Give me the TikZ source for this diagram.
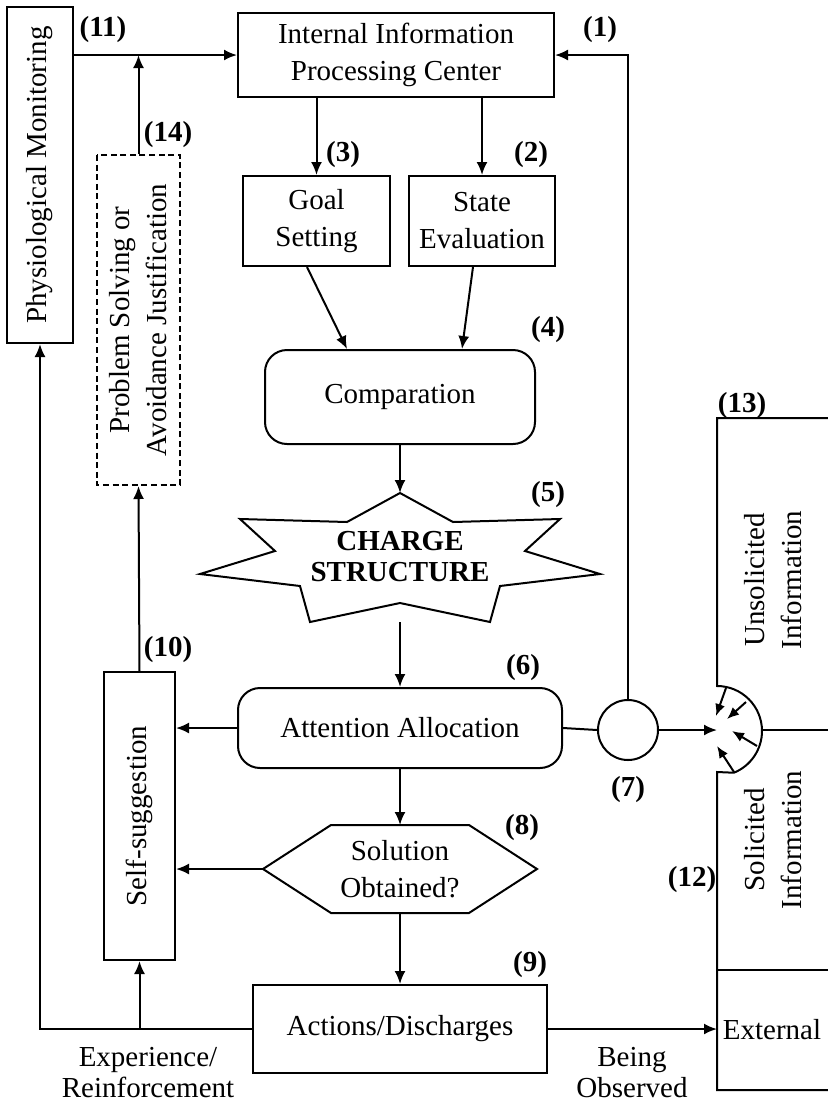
\documentclass[tikz,border=0pt]{standalone}
\usepackage{fontspec}
\setmainfont{Liberation Serif}
\usetikzlibrary{arrows.meta,calc}
\begin{document}
\begin{tikzpicture}[x=0.5pt,y=-0.5pt,
  txt/.style={font=\fontsize{14.5}{18.5}\selectfont, align=center},
  box/.style={txt, draw, line width=1pt, inner sep=0pt},
  rbox/.style={box, rounded corners=11pt},
  lbl/.style={font=\bfseries\fontsize{14.5}{17}\selectfont, inner sep=0pt},
  ln/.style={line width=1pt},
  arr/.style={ln, -{Latex[length=6.5pt,width=5.5pt]}},
  sarr/.style={ln, -{Latex[length=6pt,width=5pt]}},
]
\useasboundingbox (0,0) rectangle (827,1105);

% boxes
\node[box, minimum width=158pt, minimum height=42pt] (ipc) at (396,55) {Internal Information\\Processing Center};
\node[box, rotate=90, minimum width=168pt, minimum height=33pt] (phys) at (40,175) {Physiological Monitoring};
\node[box, dash pattern=on 3pt off 1.8pt, rotate=90, minimum width=165pt, minimum height=41.5pt] (prob) at (138.5,320) {Problem Solving or\\Avoidance Justification};
\node[box, minimum width=73.5pt, minimum height=45pt] (goal) at (316.5,221) {Goal\\Setting};
\node[box, minimum width=73pt, minimum height=45pt] (state) at (482,221) {State\\Evaluation};
\node[rbox, minimum width=135pt, minimum height=47pt] (comp) at (400,397) {Comparation};
\node[rbox, minimum width=162pt, minimum height=40pt] (att) at (400,728) {Attention Allocation};
\node[draw, circle, line width=1pt, minimum size=30pt, inner sep=0pt] (c7) at (628,730) {};
\node[box, rotate=90, minimum width=144pt, minimum height=35.5pt] (self) at (139.5,816) {Self-suggestion};
\node[box, minimum width=147pt, minimum height=44pt] (act) at (400,1029) {Actions/Discharges};

% star
\draw[ln] (400,493) -- (453,522) -- (560,519) -- (525,551) -- (600,574) -- (500,586) -- (490,622) -- (400,603)
  -- (310,622) -- (300,586) -- (200,574) -- (275,551) -- (240,519) -- (347,522) -- cycle;
\node[font=\bfseries\fontsize{14.5}{15.5}\selectfont, align=center, inner sep=0pt] (charge) at (400,557) {CHARGE\\STRUCTURE};
\coordinate (startop) at (400,493);
\coordinate (starout) at (400,622);

% hexagon
\draw[ln] (331,825) -- (469,825) -- (537,869) -- (469,913) -- (331,913) -- (263,869) -- cycle;
\node[txt, inner sep=0pt] (sol) at (400,869) {Solution\\Obtained?};
\coordinate (hextop) at (400,825);
\coordinate (hexbot) at (400,913);
\coordinate (hexleft) at (263,869);

% right structure
\draw[ln] (828,418) -- (717,418) -- (717,686) arc[start angle=90, end angle=-68, radius=22.5pt] -- (717,772) -- (717,1090) -- (828,1090);
\draw[ln] (762,730) -- (828,730);
\draw[ln] (717,970) -- (828,970);
\coordinate (hub) at (717,730);
\coordinate (ext) at (717,1029);
\draw[sarr] (726,688) -- (716,716);
\draw[sarr] (746,702) -- (727,719);
\draw[sarr] (757,746) -- (732,731);
\draw[sarr] (734,772) -- (717,746);
\node[txt, rotate=90, inner sep=0pt] (unsol) at (773,580) {Unsolicited\\Information};
\node[txt, rotate=90, inner sep=0pt] (solinfo) at (773,840) {Solicited\\Information};
\node[txt, inner sep=0pt] (external) at (772,1030) {External};

% connectors
\draw[arr] (phys.south |- ipc.west) -- (ipc.west);
\draw[arr] (prob.east) -- (prob.east |- ipc.west);
\draw[arr] (c7.north) -- (c7.north |- ipc.east) -- (ipc.east);
\draw[arr] (ipc.south -| goal.north) -- (goal.north);
\draw[arr] (ipc.south -| state.north) -- (state.north);
\draw[arr] ([xshift=-4.75pt]goal.south) -- ([xshift=-26.5pt]comp.north);
\draw[arr] ([xshift=-4.5pt]state.south) -- ([xshift=31pt]comp.north);
\draw[arr] (comp.south) -- (startop);
\draw[arr] (starout) -- (att.north);
\draw[arr] (att.west) -- (att.west -| self.south);
\draw[ln] (att.east) -- (c7.west);
\draw[arr] (c7.east) -- (hub);
\draw[arr] (att.south) -- (hextop);
\draw[arr] (hexleft) -- (hexleft -| self.south);
\draw[arr] (hexbot) -- (act.north);
\draw[arr] (self.east) -- (prob.west);
\draw[arr] (act.west) -- (act.west -| phys.west) -- (phys.west);
\draw[arr] (act.west -| self.west) -- (self.west);
\draw[arr] (act.east) -- (ext);

% bottom labels
\node[font=\fontsize{14.5}{15.5}\selectfont, align=center, inner sep=0pt] (exp) at (148,1073) {Experience/\\Reinforcement};
\node[font=\fontsize{14.5}{15.5}\selectfont, align=center, inner sep=0pt] (obs) at (632,1073) {Being\\Observed};

% number labels
\node[lbl] (n11) at (103,30) {(11)};
\node[lbl] (n14) at (168,135) {(14)};
\node[lbl] (n1) at (600,30) {(1)};
\node[lbl] (n3) at (343,155) {(3)};
\node[lbl] (n2) at (531,155) {(2)};
\node[lbl] (n4) at (548,330) {(4)};
\node[lbl] (n5) at (548,495) {(5)};
\node[lbl] (n6) at (523,668) {(6)};
\node[lbl] (n7) at (628,790) {(7)};
\node[lbl] (n8) at (522,828) {(8)};
\node[lbl] (n9) at (530,965) {(9)};
\node[lbl] (n10) at (168,650) {(10)};
\node[lbl] (n12) at (692,880) {(12)};
\node[lbl] (n13) at (742,406) {(13)};
\end{tikzpicture}
\end{document}
